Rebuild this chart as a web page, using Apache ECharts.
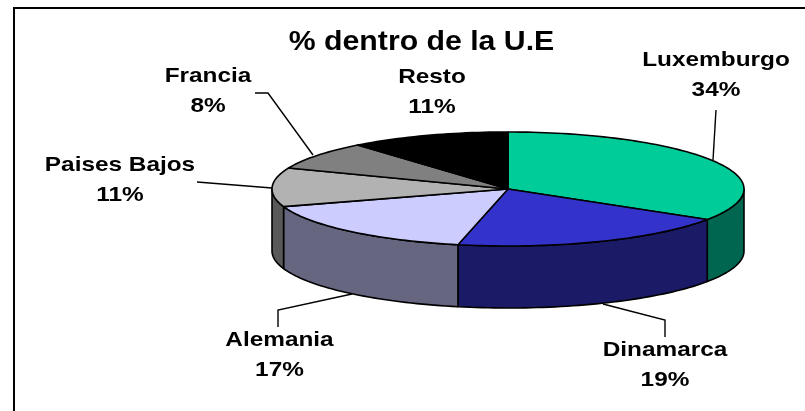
<!DOCTYPE html>
<html><head><meta charset="utf-8">
<style>html,body{margin:0;padding:0;background:#fff}#c{width:805px;height:411px}</style>
<script src="https://cdn.jsdelivr.net/npm/echarts@6/dist/echarts.min.js"></script>
</head><body><div id="c"></div>
<script>
const titleText = '% dentro de la U.E';
const categories = ['Luxemburgo','Dinamarca','Alemania','Paises Bajos','Francia','Resto'];
const shares = [34, 19.4, 16.6, 11, 8, 11];
const topColors = ['#00CC99','#3333CC','#CCCCFF','#B2B2B2','#808080','#000000'];
const sideColors = ['#006650','#1A1A66','#666680','#595959','#404040','#000000'];
const labelCentres = [[716,75.5],[665,365],[279.5,355.5],[120,180],[208,91.5],[432,92]];
const leaders = [
  [[716,110],[713,160]],
  [[665,337],[665,320],[603,304]],
  [[278,327],[278,310],[352,294]],
  [[197,182],[272,188]],
  [[255,93],[268,93],[313,155]],
  []
];
const pie = {cx:508, cy:189, rx:236, ry:57, depth:62};
const total = shares.reduce((a,b)=>a+b,0);
const starts = []; let acc = 0;
shares.forEach(v=>{starts.push(acc/total*360); acc+=v;});
const ends = starts.map((s,i)=>s+shares[i]/total*360);
const pt = (deg,dy)=>{const r=deg*Math.PI/180;return [pie.cx+pie.rx*Math.sin(r), pie.cy-pie.ry*Math.cos(r)+(dy||0)];};
const arc = (a,b,dy)=>{const out=[];const n=Math.max(2,Math.ceil((b-a)/1.5));for(let i=0;i<=n;i++)out.push(pt(a+(b-a)*i/n,dy));return out;};
const line = {stroke:'#000',lineWidth:1.6,lineJoin:'round'};
const rows = categories.map((c,i)=>[i,starts[i],ends[i],shares[i]]);
function renderSide(params,api){
  const i=api.value(0);
  const a=Math.max(api.value(1),90), b=Math.min(api.value(2),270);
  if(b<=a) return {type:'group',children:[]};
  const pts=arc(a,b,0).concat(arc(a,b,pie.depth).reverse());
  return {type:'polygon',shape:{points:pts},style:{fill:sideColors[i],...line}};
}
function renderTop(params,api){
  const i=api.value(0);
  const pts=[[pie.cx,pie.cy]].concat(arc(api.value(1),api.value(2),0));
  return {type:'polygon',shape:{points:pts},style:{fill:topColors[i],...line}};
}
function renderLabel(params,api){
  const i=api.value(0);
  const kids=[{type:'text',x:labelCentres[i][0],y:labelCentres[i][1],scaleX:1.16,style:{x:0,y:0,
    text:categories[i]+'\n'+Math.round(api.value(3))+'%',
    fill:'#000',font:'bold 21px "Liberation Sans", Arial, sans-serif',lineHeight:30,
    align:'center',verticalAlign:'middle'}}];
  if(leaders[i].length) kids.push({type:'polyline',shape:{points:leaders[i]},style:{stroke:'#000',lineWidth:1.4,fill:null}});
  return {type:'group',children:kids};
}
const chart=echarts.init(document.getElementById('c'),null,{renderer:'canvas'});
chart.setOption({
  animation:false,
  backgroundColor:'#fff',
  graphic:[
    {type:'rect',z:-1,shape:{x:14,y:8,width:830,height:440},style:{fill:'#fff',stroke:'#000',lineWidth:2}},
    {type:'text',z:5,x:421.5,y:42,scaleX:1.08,style:{x:0,y:0,text:titleText,fill:'#000',font:'bold 28px "Liberation Sans", Arial, sans-serif',align:'center',verticalAlign:'middle'}}
  ],
  series:[
    {type:'custom',coordinateSystem:'none',silent:true,clip:false,z:2,data:rows,renderItem:renderSide},
    {type:'custom',coordinateSystem:'none',silent:true,clip:false,z:3,data:rows,renderItem:renderTop},
    {type:'custom',coordinateSystem:'none',silent:true,clip:false,z:4,data:rows,renderItem:renderLabel}
  ]
});
</script></body></html>
